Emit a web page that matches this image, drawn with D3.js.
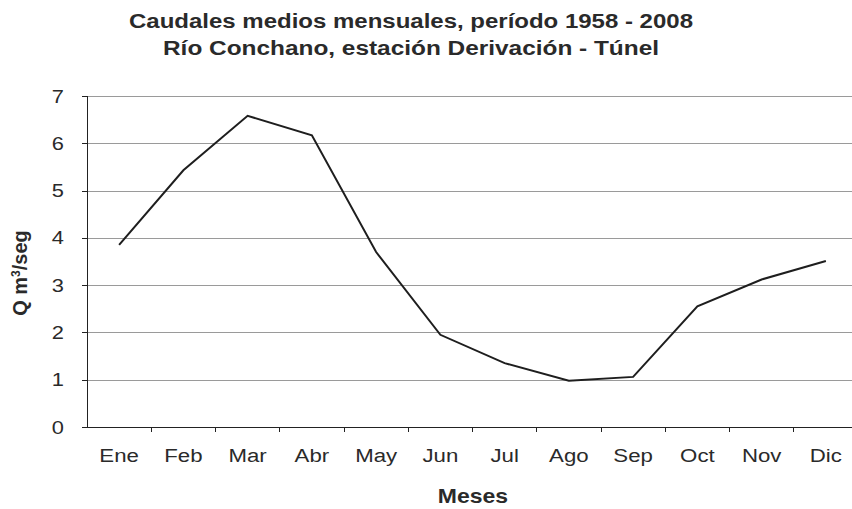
<!DOCTYPE html>
<html lang="es">
<head>
<meta charset="utf-8">
<title>Caudales medios mensuales</title>
<style type="text/css">
	body { margin: 0; background: white; }
	svg { display: block; font-family: "Liberation Sans", Arial, sans-serif; }
	.title { font-size: 20px; font-weight: bold; fill: #2a2a2a; }
	.grid line { stroke: #9a9a9a; stroke-width: 1; }
	.axis path, .axis line { stroke: #222; shape-rendering: crispEdges; }
	.axis text { font-size: 19px; fill: #2a2a2a; }
	.label { font-size: 20px; font-weight: bold; fill: #2a2a2a; }
	.flow { fill: none; stroke: #1e1e1e; stroke-width: 2; }
</style>
</head>
<body>
<script src="https://cdnjs.cloudflare.com/ajax/libs/d3/7.8.5/d3.min.js"></script>
<script type="text/javascript">

	var months = ["Ene", "Feb", "Mar", "Abr", "May", "Jun", "Jul", "Ago", "Sep", "Oct", "Nov", "Dic"];
	var caudal = [3.85, 5.43, 6.58, 6.17, 3.70, 1.95, 1.35, 0.98, 1.06, 2.55, 3.12, 3.51];
	var yTicks = [0, 1, 2, 3, 4, 5, 6, 7];

	var fullwidth = 852, fullheight = 509;
	var margin = { top: 96, left: 87, bottom: 82 };
	var plotRight = 858;
	var height = fullheight - margin.top - margin.bottom;

	var svg = d3.select("body").append("svg")
		.attr("width", fullwidth)
		.attr("height", fullheight);

	var g = svg.append("g")
		.attr("transform", "translate(" + margin.left + "," + margin.top + ")");

	var xScale = d3.scaleBand()
		.domain(months)
		.range([0, plotRight - margin.left]);

	var yScale = d3.scaleLinear()
		.domain([0, 7])
		.range([height, 0]);

	// horizontal gridlines
	g.append("g")
		.attr("class", "grid")
		.selectAll("line")
		.data(yTicks.filter(function(d) { return d > 0; }))
		.enter().append("line")
		.attr("x1", -5)
		.attr("x2", plotRight - margin.left)
		.attr("y1", function(d) { return Math.round(yScale(d)) + 0.5; })
		.attr("y2", function(d) { return Math.round(yScale(d)) + 0.5; });

	var yAxis = d3.axisLeft(yScale).tickValues(yTicks).tickFormat(d3.format("d"))
		.tickSize(5).tickPadding(18);
	var yg = g.append("g").attr("class", "y axis").call(yAxis);
	yg.select(".domain").attr("d", "M0," + height + "V0");
	yg.selectAll("text").attr("transform", "scale(1.15,1)").attr("dx", 0)
		.attr("x", -23 / 1.15);

	// x axis: ticks sit on the category boundaries
	var xg = g.append("g").attr("class", "x axis")
		.attr("transform", "translate(0," + height + ")");
	xg.append("line")
		.attr("x1", -5).attr("x2", plotRight - margin.left)
		.attr("y1", 0).attr("y2", 0);
	xg.selectAll("line.tk")
		.data(months.slice(1))
		.enter().append("line")
		.attr("class", "tk")
		.attr("x1", function(d) { return xScale(d); })
		.attr("x2", function(d) { return xScale(d); })
		.attr("y1", 0).attr("y2", 5);
	xg.selectAll("text")
		.data(months)
		.enter().append("text")
		.attr("transform", function(d) {
			return "translate(" + (xScale(d) + xScale.bandwidth() / 2) + ",35) scale(1.17,1)";
		})
		.attr("text-anchor", "middle")
		.text(function(d) { return d; });

	var line = d3.line()
		.x(function(d, i) { return xScale(months[i]) + xScale.bandwidth() / 2; })
		.y(function(d) { return yScale(d); });

	g.append("path")
		.datum(caudal)
		.attr("class", "flow")
		.attr("d", line);

	svg.append("text").attr("class", "title")
		.attr("x", 411).attr("y", 28).attr("text-anchor", "middle")
		.attr("textLength", 564).attr("lengthAdjust", "spacingAndGlyphs")
		.text("Caudales medios mensuales, período 1958 - 2008");
	svg.append("text").attr("class", "title")
		.attr("x", 411).attr("y", 55).attr("text-anchor", "middle")
		.attr("textLength", 496).attr("lengthAdjust", "spacingAndGlyphs")
		.text("Río Conchano, estación Derivación - Túnel");

	svg.append("text").attr("class", "label")
		.attr("transform", "translate(27,273) rotate(-90)")
		.attr("text-anchor", "middle")
		.html("Q m<tspan baseline-shift=\"super\" font-size=\"12px\">3</tspan>/seg");

	svg.append("text").attr("class", "label")
		.attr("transform", "translate(473,503) scale(1.15,1)")
		.attr("text-anchor", "middle")
		.text("Meses");

</script>
</body>
</html>
